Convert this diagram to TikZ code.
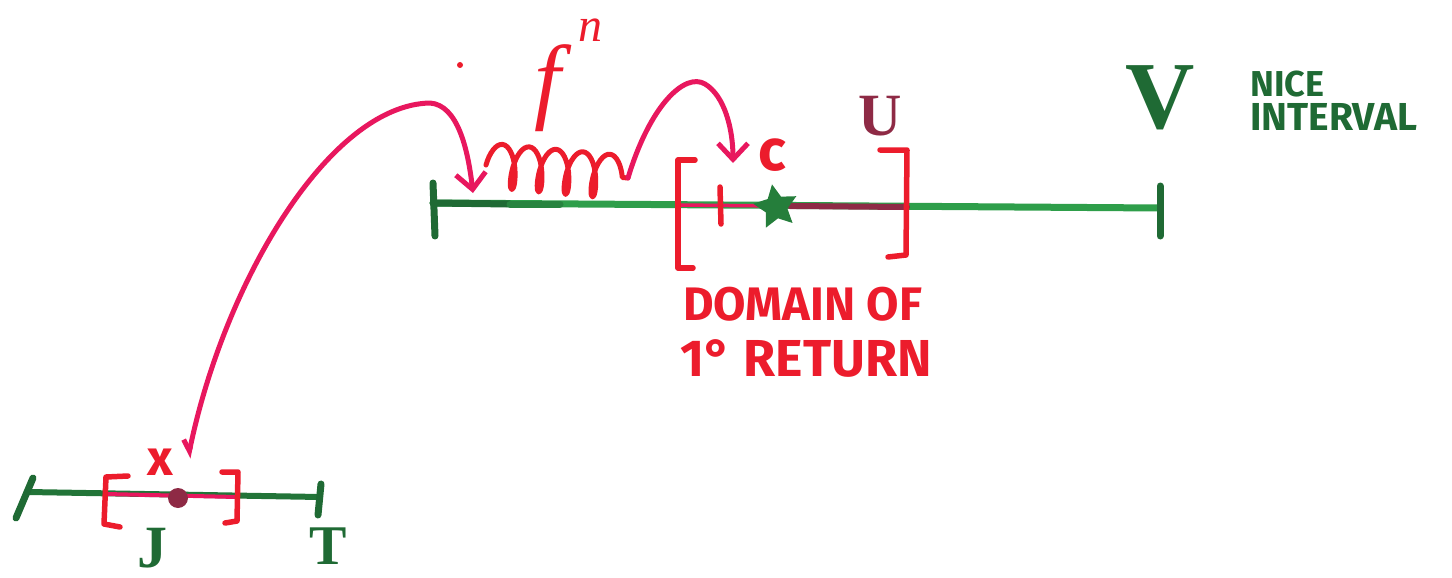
\documentclass[tikz,border=0pt]{standalone}
\usepackage{fontspec}
\setmainfont{Fira Sans}
\newfontfamily\hserif{Liberation Serif}
\usetikzlibrary{arrows.meta,shapes.geometric,decorations.pathmorphing}
\definecolor{vgreen}{HTML}{2E9E4A}
\definecolor{dgreen}{HTML}{1F6A34}
\definecolor{mred}{HTML}{EC1C2C}
\definecolor{mpink}{HTML}{E8175E}
\definecolor{maroon}{HTML}{8E2A45}
\tikzset{
  pen/.style={line width=5pt, line cap=round, line join=round},
  greenline/.style={pen, vgreen, line width=7pt},
  tickg/.style={pen, dgreen, line width=7pt},
  brack/.style={pen, mred, line width=5.5pt},
  barb/.style={-{Straight Barb[length=16pt,width=30pt,line width=5pt]}},
  lab/.style={inner sep=0pt, font=\bfseries},
}
\begin{document}
\begin{tikzpicture}[x=1pt,y=-1pt]
\useasboundingbox (0,0) rectangle (1452,578);
% ---------- V interval ----------
\coordinate (VL) at (433,203);
\coordinate (VR) at (1160,208);
\coordinate (UL) at (678,205);
\coordinate (UR) at (907,207);
\draw[greenline] (VL) -- (VR);
\draw[pen, dgreen, line width=7pt] (VL) -- (510,204);
\draw[pen, dgreen!50!vgreen, line width=7pt] (510,204) -- (560,204);
\draw[pen, mpink, line width=3.5pt] (UL) -- (780,206);
\draw[pen, maroon, line width=6pt] (790,206) -- (UR);
\draw[tickg] (433,183) -- (435,236);
\draw[tickg] (1160,186) -- (1160,236);
% brackets of U
\draw[brack] (695,160) -- (678,160) -- (678,268) -- (693,268);
\draw[brack] (880,150) -- (907,150) -- (906,255) -- (888,257);
% small tick
\draw[pen, mred, line width=5.5pt] (720,187) -- (721,224);
% c star
\node[star, star points=5, star point ratio=2.0, fill=vgreen!80!black, minimum size=46pt, inner sep=0pt, rotate=10] (c) at (776,207) {};
\node[lab, text=mred, font=\bfseries\fontsize{58}{60}\selectfont] (clab) at (772,155) {c};
% U label
\node[lab, text=maroon, font=\hserif\bfseries\fontsize{60}{62}\selectfont] (Ulab) at (880,116) {U};
% V label
\node[lab, text=dgreen, font=\hserif\bfseries\fontsize{96}{96}\selectfont] (Vlab) at (1160,98) {V};
% NICE INTERVAL
\node[lab, text=dgreen, anchor=base west, font=\bfseries\fontsize{36}{36}\selectfont] (nice) at (1250,96) {NICE};
\node[lab, text=dgreen, anchor=base west, font=\bfseries\fontsize{39}{39}\selectfont] (interval) at (1250,131) {INTERVAL};
% domain of first return
\node[lab, text=mred, anchor=base west, font=\bfseries\fontsize{47}{48}\selectfont] (dom) at (683,320) {DOMAIN OF};
\node[lab, text=mred, anchor=base west, font=\bfseries\fontsize{52}{54}\selectfont] (ret) at (680,376) {1° RETURN};
% f^n label
\node[lab, text=mred, font=\hserif\itshape\fontsize{95}{95}\selectfont] (flab) at (548,88) {f};
\node[lab, text=mred, font=\hserif\itshape\fontsize{48}{48}\selectfont] (nlab) at (590,30) {n};
\node[circle, fill=mred, minimum size=6pt, inner sep=0pt] (spot) at (460,65) {};
% ---------- small interval T ----------
\coordinate (TL) at (28,492);
\coordinate (TR) at (320,497);
\coordinate (JL) at (106,494);
\coordinate (JR) at (237,497);
\draw[greenline, dgreen!80!vgreen, line width=6pt] (TL) -- (TR);
\draw[pen, mpink, line width=4pt] (JL) -- (JR);
\draw[tickg] (33,478) -- (16,518);
\draw[tickg] (321,484) -- (318,515);
\draw[brack] (128,476) -- (106,477) -- (104,524) -- (120,527);
\draw[brack] (222,472) -- (238,472) -- (237,521) -- (225,523);
\node[circle, fill=maroon, minimum size=20pt, inner sep=0pt] (xdot) at (178,498) {};
\node[lab, text=mred, font=\bfseries\fontsize{50}{50}\selectfont] (xlab) at (160,462) {x};
\node[lab, text=dgreen, font=\hserif\bfseries\fontsize{60}{60}\selectfont] (Jlab) at (152,548) {J};
\node[lab, text=dgreen, font=\hserif\bfseries\fontsize{56}{56}\selectfont] (Tlab) at (328,546) {T};
% ---------- arrows ----------
\coordinate (xtop) at (188,458);
\coordinate (land) at (473,193);
\coordinate (sqA) at (486,165);
\coordinate (sqB) at (628,178);
\coordinate (land2) at (733,163);
\draw[pen, mpink, line width=5pt, {Straight Barb[right,length=10pt,width=16pt,line width=5pt]}-{Straight Barb[length=16pt,width=30pt,line width=5pt]}]
  (xtop) .. controls (225,280) and (330,105) .. (430,103)
         .. controls (458,105) and (468,150) .. (land);
\draw[pen, mred, line width=5pt, decorate, decoration={coil, aspect=0.35, segment length=27pt, amplitude=22pt}]
  (sqA) -- (sqB);
\draw[pen, mpink, line width=5pt, barb]
  (sqB) .. controls (650,105) and (685,72) .. (705,84)
        .. controls (725,96) and (733,130) .. (land2);
\end{tikzpicture}
\end{document}
